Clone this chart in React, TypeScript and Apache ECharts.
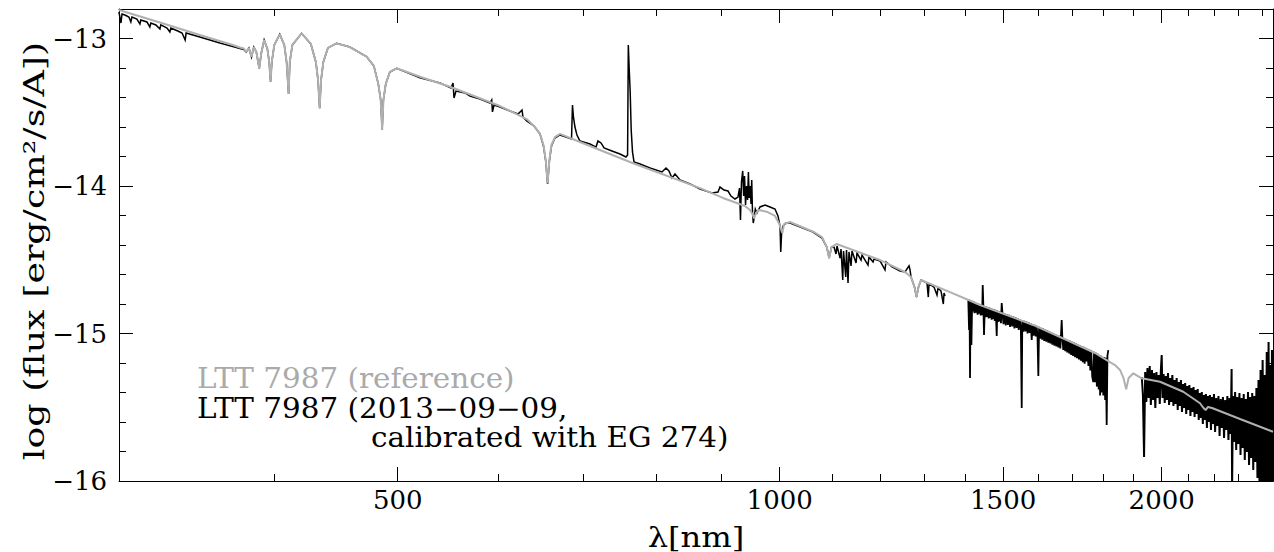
import React, { useEffect, useRef } from "react";
import * as echarts from "echarts";

// ---------- axis extents and ticks (wavelength in nm, log flux) ----------
const LAMBDA_MIN = 301.54;
const LAMBDA_MAX = 2447.6;
const FLUX_MIN = -16;
const FLUX_MAX = -12.8;
const majorLambdaTicks = [500, 1000, 1500, 2000];
const minorLambdaTicks = [400, 600, 700, 800, 900, 1100, 1200, 1300, 1400, 1600, 1700, 1800, 1900, 2100, 2200, 2300, 2400];
const majorFluxTicks = [-16, -15, -14, -13];
const minorFluxTicks = [-15.8, -15.6, -15.4, -15.2, -14.8, -14.6, -14.4, -14.2, -13.8, -13.6, -13.4, -13.2];

// ---------- reference spectrum (grey): [lambda nm, log flux] ----------
const referenceSpectrum: [number, number][] = [
  [301.5, -12.807], [324.8, -12.892], [349.2, -12.976], [370.7, -13.044], [375.5, -13.061], [378.2, -13.068],
  [379.8, -13.092], [381.7, -13.064], [383.5, -13.125], [385.1, -13.058], [386.9, -13.092], [388.9, -13.202],
  [390.4, -13.098], [392.4, -13.010], [394.7, -13.071], [396.0, -13.159], [397.0, -13.293], [397.9, -13.159],
  [399.7, -13.044], [403.7, -12.972], [407.0, -13.044], [408.7, -13.159], [410.2, -13.376], [411.1, -13.159],
  [413.0, -13.044], [420.0, -12.965], [427.1, -13.037], [431.0, -13.159], [432.7, -13.281], [434.0, -13.473],
  [435.1, -13.281], [436.9, -13.159], [440.5, -13.064], [447.5, -13.033], [458.4, -13.058], [472.5, -13.123],
  [478.8, -13.186], [482.7, -13.308], [484.8, -13.417], [486.1, -13.616], [487.2, -13.417], [489.3, -13.308],
  [492.9, -13.227], [499.1, -13.202], [520.6, -13.259], [549.8, -13.327], [602.0, -13.458], [631.8, -13.546],
  [640.3, -13.593], [647.3, -13.647], [651.4, -13.722], [654.1, -13.824], [656.3, -13.982], [658.4, -13.824],
  [660.9, -13.722], [665.1, -13.668], [671.2, -13.647], [696.0, -13.702], [766.3, -13.846], [865.4, -14.014],
  [902.2, -14.081], [939.0, -14.136], [947.5, -14.163], [951.8, -14.190], [954.6, -14.219], [957.9, -14.183],
  [963.0, -14.163], [976.6, -14.174], [991.5, -14.203], [999.3, -14.258], [1004.9, -14.319], [1007.9, -14.258],
  [1018.9, -14.244], [1062.7, -14.310], [1079.8, -14.346], [1089.2, -14.414], [1093.8, -14.490], [1098.6, -14.414],
  [1108.9, -14.393], [1199.7, -14.502], [1255.3, -14.583], [1269.1, -14.617], [1277.1, -14.685], [1281.8, -14.751],
  [1286.4, -14.685], [1292.3, -14.637], [1301.7, -14.649], [1362.1, -14.719], [1404.0, -14.768], [1438.3, -14.807],
  [1583.5, -14.942], [1683.3, -15.044], [1772.0, -15.132], [1810.0, -15.180], [1837.5, -15.214], [1854.3, -15.247],
  [1866.1, -15.302], [1875.1, -15.378], [1883.6, -15.302], [1899.6, -15.270], [1928.8, -15.304], [1993.9, -15.327],
  [2079.9, -15.395], [2144.0, -15.473], [2157.6, -15.505], [2166.0, -15.519], [2175.1, -15.498], [2191.2, -15.505],
  [2305.4, -15.580], [2447.6, -15.666],
];

// ---------- observed spectrum (black), three pieces between telluric gaps ----------
const observedUVtoJ: [number, number][] = [
  [301.5, -12.820], [302.1, -12.861], [302.6, -12.895], [303.2, -12.834], [304.8, -12.841], [307.0, -12.854],
  [308.1, -12.888], [308.7, -12.854], [311.5, -12.868], [313.2, -12.902], [313.7, -12.875], [317.2, -12.888],
  [318.9, -12.922], [319.5, -12.895], [322.4, -12.908], [324.8, -12.936], [325.3, -12.908], [329.0, -12.929],
  [330.7, -12.956], [331.3, -12.929], [335.5, -12.949], [338.1, -12.963], [340.0, -13.010], [340.6, -12.963],
  [344.8, -12.976], [349.2, -12.990], [355.6, -13.010], [362.1, -13.031], [370.7, -13.054], [375.5, -13.068],
  [378.2, -13.075], [379.8, -13.092], [381.7, -13.064], [383.5, -13.125], [385.1, -13.058], [386.9, -13.092],
  [388.9, -13.202], [390.4, -13.098], [392.4, -13.010], [394.7, -13.071], [396.0, -13.159], [397.0, -13.293],
  [397.9, -13.159], [399.7, -13.044], [403.7, -12.972], [407.0, -13.044], [408.7, -13.159], [410.2, -13.376],
  [411.1, -13.159], [413.0, -13.044], [420.0, -12.965], [427.1, -13.037], [431.0, -13.159], [432.7, -13.281],
  [434.0, -13.473], [435.1, -13.281], [436.9, -13.159], [440.5, -13.064], [447.5, -13.033], [458.4, -13.058],
  [472.5, -13.123], [478.8, -13.186], [482.7, -13.308], [484.8, -13.417], [486.1, -13.616], [487.2, -13.417],
  [489.3, -13.308], [492.9, -13.227], [499.1, -13.202], [520.6, -13.266], [539.9, -13.302], [550.8, -13.336],
  [552.8, -13.302], [553.8, -13.403], [555.8, -13.356], [564.9, -13.369], [570.1, -13.390], [580.5, -13.410],
  [591.2, -13.437], [593.0, -13.417], [593.8, -13.498], [595.5, -13.451], [602.0, -13.464], [613.0, -13.492],
  [622.0, -13.512], [626.5, -13.485], [627.6, -13.532], [631.8, -13.559], [640.3, -13.593], [647.3, -13.647],
  [651.4, -13.729], [654.1, -13.831], [656.3, -13.986], [658.4, -13.831], [660.9, -13.729], [665.1, -13.675],
  [671.2, -13.654], [678.5, -13.668], [685.4, -13.681], [686.6, -13.451], [687.8, -13.532], [689.7, -13.600],
  [692.2, -13.654], [696.0, -13.695], [708.8, -13.715], [716.5, -13.736], [719.1, -13.695], [723.1, -13.708],
  [727.1, -13.742], [737.6, -13.763], [748.4, -13.783], [756.6, -13.803], [758.8, -13.790], [759.8, -13.044],
  [761.1, -13.214], [762.4, -13.363], [763.8, -13.620], [765.6, -13.769], [767.7, -13.837], [776.1, -13.851],
  [790.3, -13.878], [807.7, -13.905], [813.6, -13.878], [818.0, -13.898], [822.5, -13.946], [827.0, -13.919],
  [834.5, -13.959], [849.8, -13.986], [865.4, -14.020], [884.4, -14.047], [894.1, -14.041], [897.3, -14.007],
  [903.9, -14.027], [910.5, -14.034], [915.4, -14.068], [922.1, -14.088], [927.1, -14.075], [929.7, -14.014],
  [931.3, -14.231], [933.0, -13.973], [935.1, -13.898], [936.7, -14.068], [938.2, -13.932], [939.9, -14.129],
  [941.6, -14.000], [943.4, -14.095], [944.8, -13.905], [946.1, -14.081], [947.9, -14.000], [949.3, -14.122],
  [950.5, -13.959], [951.8, -14.176], [953.2, -14.251], [954.6, -14.217], [956.7, -14.156], [959.6, -14.183],
  [964.9, -14.142], [973.7, -14.129], [982.6, -14.142], [991.5, -14.156], [996.9, -14.203], [1000.6, -14.271],
  [1001.9, -14.447], [1003.4, -14.325], [1006.2, -14.271], [1011.7, -14.251], [1018.9, -14.251], [1062.3, -14.312],
  [1079.8, -14.353], [1089.2, -14.414], [1093.8, -14.488], [1098.6, -14.414], [1103.6, -14.414], [1107.6, -14.461],
  [1109.6, -14.407], [1115.7, -14.488], [1117.7, -14.427], [1121.2, -14.637], [1122.8, -14.441], [1127.3, -14.617],
  [1128.9, -14.434], [1132.0, -14.658], [1134.0, -14.447], [1138.2, -14.542], [1140.2, -14.441], [1148.6, -14.522],
  [1150.6, -14.454], [1159.0, -14.502], [1161.1, -14.468], [1173.8, -14.536], [1175.9, -14.481], [1184.6, -14.515],
  [1186.8, -14.495], [1199.7, -14.508], [1210.5, -14.569], [1212.7, -14.515], [1226.1, -14.549], [1244.0, -14.576],
  [1255.3, -14.583], [1264.5, -14.542], [1266.8, -14.569], [1269.1, -14.617], [1277.1, -14.685], [1281.8, -14.753],
  [1286.4, -14.685], [1292.3, -14.637], [1301.7, -14.651], [1306.4, -14.658], [1309.5, -14.753], [1311.2, -14.664],
  [1323.1, -14.685], [1330.3, -14.739], [1332.8, -14.692], [1340.1, -14.712], [1345.7, -14.800], [1347.4, -14.725],
  [1349.9, -14.746],
];

const observedH: [number, number][] = [
  [1408, -14.768], [1410, -14.976], [1411.2, -14.771], [1412.5, -15.302], [1413.8, -14.774], [1416, -15.078],
  [1418, -14.779], [1420, -14.850], [1422, -14.784], [1424, -14.862], [1426, -14.788], [1428, -14.858],
  [1430, -14.793], [1432, -14.872], [1434, -14.797], [1436, -14.866], [1438, -14.802], [1440, -14.878],
  [1442, -14.805], [1444, -14.875], [1445.4, -14.671], [1447, -14.810], [1448.8, -15.010], [1451, -14.814],
  [1453, -14.890], [1455, -14.818], [1457, -14.888], [1459, -14.821], [1461, -14.898], [1463, -14.825],
  [1465, -14.894], [1467, -14.829], [1469, -14.906], [1471, -14.832], [1473, -14.902], [1475, -14.836],
  [1477, -14.914], [1479, -14.840], [1481, -14.908], [1482.6, -15.017], [1484, -14.845], [1486, -14.922],
  [1488, -14.848], [1490, -14.918], [1492, -14.852], [1494, -14.930], [1496.1, -14.793], [1498, -14.858],
  [1501, -14.936], [1504, -14.863], [1507, -14.945], [1510, -14.869], [1513, -14.942], [1516, -14.874],
  [1519, -14.955], [1522, -14.880], [1525, -14.952], [1528, -14.885], [1531, -14.965], [1534, -14.891],
  [1537, -14.962], [1540, -14.897], [1543, -14.975], [1546, -14.902], [1549, -14.972], [1551.4, -15.505],
  [1553, -14.909], [1556, -14.988], [1559, -14.914], [1562, -14.985], [1565, -14.920], [1568, -15.000],
  [1571, -14.925], [1574, -14.996], [1577, -14.931], [1579.8, -15.044], [1582, -14.936], [1585, -15.015],
  [1588, -14.942], [1591, -15.020], [1594, -14.948], [1596.5, -15.025], [1598.9, -15.288], [1601, -14.955],
  [1604, -15.035], [1607, -14.961], [1610, -15.042], [1613, -14.967], [1616, -15.050], [1619, -14.973],
  [1622, -15.055], [1625, -14.979], [1628, -15.062], [1631, -14.985], [1634, -15.068], [1637, -14.992],
  [1640, -15.075], [1643, -14.998], [1646, -15.082], [1649, -15.004], [1652, -15.088], [1655, -15.010],
  [1658, -15.095], [1661, -15.016], [1664, -15.102], [1668.1, -14.908], [1670, -15.025], [1673, -15.112],
  [1676, -15.031], [1679, -15.120], [1682, -15.038], [1685, -15.128], [1688, -15.044], [1691, -15.136],
  [1694, -15.050], [1697, -15.145], [1700, -15.056], [1703, -15.152], [1706, -15.062], [1709, -15.160],
  [1712, -15.067], [1715, -15.168], [1718, -15.073], [1721, -15.176], [1724, -15.079], [1727, -15.185],
  [1730, -15.085], [1733, -15.195], [1736, -15.091], [1739, -15.205], [1742, -15.097], [1745, -15.190],
  [1748, -15.103], [1751, -15.220], [1754, -15.109], [1757, -15.250], [1760, -15.115], [1763, -15.290],
  [1766.6, -15.330], [1769, -15.124], [1772, -15.330], [1775, -15.131], [1778, -15.360], [1781, -15.138],
  [1784, -15.380], [1787, -15.146], [1788.5, -15.420], [1790, -15.150], [1793, -15.400], [1796, -15.157],
  [1799, -15.420], [1802, -15.160], [1805, -15.450], [1807, -15.165], [1810, -15.620], [1812.5, -15.150],
  [1815.4, -15.112],
];

const observedK: [number, number][] = [
  [1929, -15.295], [1933, -15.417], [1937, -15.837], [1941, -15.261], [1945, -15.464], [1949, -15.234],
  [1953, -15.437], [1957, -15.220], [1961, -15.485], [1965, -15.247], [1969, -15.451], [1973, -15.268],
  [1977, -15.505], [1981, -15.261], [1985, -15.437], [1989, -15.281], [1993, -15.478], [1997, -15.247],
  [2000, -15.146], [2003, -15.437], [2007, -15.275], [2011, -15.471], [2015, -15.288], [2019, -15.451],
  [2023, -15.268], [2027, -15.485], [2031, -15.302], [2035, -15.464], [2039, -15.281], [2043, -15.492],
  [2047, -15.315], [2051, -15.478], [2055, -15.302], [2059, -15.519], [2063, -15.329], [2067, -15.492],
  [2071, -15.315], [2075, -15.532], [2079, -15.342], [2083, -15.505], [2087, -15.336], [2091, -15.546],
  [2095, -15.356], [2099, -15.519], [2103, -15.349], [2107, -15.559], [2111, -15.369], [2115, -15.532],
  [2119, -15.363], [2123, -15.566], [2127, -15.383], [2131, -15.546], [2135, -15.376], [2139, -15.586],
  [2143, -15.403], [2147, -15.573], [2151, -15.397], [2155, -15.614], [2159, -15.417], [2163, -15.586],
  [2167, -15.410], [2171, -15.641], [2175, -15.424], [2179, -15.600], [2183, -15.417], [2187, -15.654],
  [2191, -15.431], [2195, -15.614], [2199, -15.410], [2203.5, -15.668], [2208, -15.437], [2212.5, -15.627],
  [2217, -15.424], [2221.5, -15.695], [2226, -15.444], [2230.5, -15.641], [2235, -15.431], [2239.5, -15.708],
  [2244, -15.451], [2248.5, -15.654], [2253, -15.424], [2257.5, -15.722], [2262, -15.437], [2266.5, -15.681],
  [2270.5, -15.241], [2272.5, -16.061], [2276, -15.424], [2280.5, -15.736], [2285, -15.397], [2289.5, -15.790],
  [2294, -15.431], [2298.5, -15.749], [2303, -15.403], [2307.5, -15.824], [2312, -15.437], [2316.5, -15.776],
  [2321, -15.410], [2325.5, -15.858], [2330, -15.444], [2334.5, -15.803], [2339, -15.397], [2343.5, -15.892],
  [2348, -15.431], [2352.5, -15.844], [2357, -15.403], [2361.5, -15.925], [2366, -15.424], [2370.5, -15.871],
  [2375, -15.369], [2379.5, -15.980], [2384, -15.315], [2388.5, -16.061], [2393, -15.247], [2397.5, -16.061],
  [2402, -15.180], [2406.5, -16.061], [2411, -15.281], [2415.5, -16.061], [2420, -15.125], [2424.5, -16.061],
  [2428, -15.058], [2432, -16.061], [2435.5, -15.214], [2439.5, -16.061], [2443, -15.112], [2446, -16.061],
  [2447.6, -15.315],
];

const legendLines = ["LTT 7987 (reference)", "LTT 7987 (2013\u221209\u221209,", "calibrated with EG 274)"];
const xTitle = "\u03bb[nm]";
const yTitle = "log (flux [erg/cm\u00b2/s/A])";

const FONT_FAMILY = "'DejaVu Serif', serif";
const TICK_FONT = 26;
const GREY = "#b0b0b0";

const lg = (v: number) => Math.log10(v);
const toXY = (arr: [number, number][]) => arr.map(([l, f]) => [lg(l), f]);

function xAxisDef(position: "top" | "bottom", ticks: number[], len: number, showLine: boolean, showLabels: boolean) {
  return {
    type: "value",
    position,
    gridIndex: 0,
    min: lg(LAMBDA_MIN),
    max: lg(LAMBDA_MAX),
    splitLine: { show: false },
    axisLine: { show: showLine, onZero: false, lineStyle: { color: "#000", width: 1 } },
    axisTick: { show: true, inside: true, length: len, customValues: ticks.map(lg), lineStyle: { color: "#000", width: 1 } },
    axisLabel: {
      show: showLabels,
      customValues: ticks.map(lg),
      formatter: (v: number) => String(Math.round(Math.pow(10, v))),
      color: "#000",
      fontFamily: FONT_FAMILY,
      fontSize: TICK_FONT,
      margin: 6,
    },
  };
}

function yAxisDef(position: "left" | "right", ticks: number[], len: number, showLine: boolean, showLabels: boolean) {
  return {
    type: "value",
    position,
    gridIndex: 0,
    min: FLUX_MIN,
    max: FLUX_MAX,
    splitLine: { show: false },
    axisLine: { show: showLine, onZero: false, lineStyle: { color: "#000", width: 1 } },
    axisTick: { show: true, inside: true, length: len, customValues: ticks, lineStyle: { color: "#000", width: 1 } },
    axisLabel: {
      show: showLabels,
      customValues: ticks,
      formatter: (v: number) => (v < 0 ? "\u2212" : "") + String(Math.abs(v)),
      color: "#000",
      fontFamily: FONT_FAMILY,
      fontSize: TICK_FONT,
      margin: 12,
    },
  };
}

function textEl(text: string, x: number, y: number, size: number, fill: string, align: string, opts: Record<string, number> = {}) {
  return {
    type: "text",
    x,
    y,
    ...opts,
    style: {
      text,
      fill,
      font: `${size}px ${FONT_FAMILY}`,
      align,
      verticalAlign: "middle",
      textAlign: align,
      textVerticalAlign: "middle",
    },
  };
}

export default function App() {
  const ref = useRef<HTMLDivElement>(null);
  useEffect(() => {
    document.body.style.margin = "0";
    if (!ref.current) return;
    const chart = echarts.init(ref.current, null, { renderer: "svg" });
    const blackLine = (data: [number, number][], width: number) => ({
      type: "line",
      xAxisIndex: 0,
      yAxisIndex: 0,
      data: toXY(data),
      showSymbol: false,
      symbol: "none",
      clip: true,
      z: 2,
      lineStyle: { color: "#000", width, join: "miter" },
    });
    chart.setOption({
      animation: false,
      backgroundColor: "#fff",
      grid: { left: 119, right: 1, top: 9, bottom: 71, containLabel: false, outerBoundsMode: "none" },
      xAxis: [
        xAxisDef("bottom", majorLambdaTicks, 14, true, true),
        xAxisDef("bottom", minorLambdaTicks, 7, false, false),
        xAxisDef("top", majorLambdaTicks, 14, true, false),
        xAxisDef("top", minorLambdaTicks, 7, false, false),
      ],
      yAxis: [
        yAxisDef("left", majorFluxTicks, 14, true, true),
        yAxisDef("left", minorFluxTicks, 7, false, false),
        yAxisDef("right", majorFluxTicks, 14, true, false),
        yAxisDef("right", minorFluxTicks, 7, false, false),
      ],
      series: [
        blackLine(observedUVtoJ, 1.5),
        blackLine(observedH, 1.8),
        blackLine(observedK, 2),
        {
          type: "line",
          xAxisIndex: 0,
          yAxisIndex: 0,
          data: toXY(referenceSpectrum),
          showSymbol: false,
          symbol: "none",
          clip: true,
          z: 3,
          lineStyle: { color: GREY, width: 2 },
        },
      ],
      graphic: [
        textEl(yTitle, 35, 251, 28, "#000", "center", { rotation: Math.PI / 2, scaleX: 1.3 }),
        textEl(xTitle, 696, 537, 28, "#000", "center", { scaleX: 1.15 }),
        textEl(legendLines[0], 197, 379, 27, "#aaaaaa", "left", { scaleX: 1.09 }),
        textEl(legendLines[1], 197, 409, 27, "#000", "left", { scaleX: 1.09 }),
        textEl(legendLines[2], 371, 438, 27, "#000", "left", { scaleX: 1.09 }),
      ],
    });
    return () => chart.dispose();
  }, []);
  return <div ref={ref} style={{ width: 1274, height: 552 }} />;
}
